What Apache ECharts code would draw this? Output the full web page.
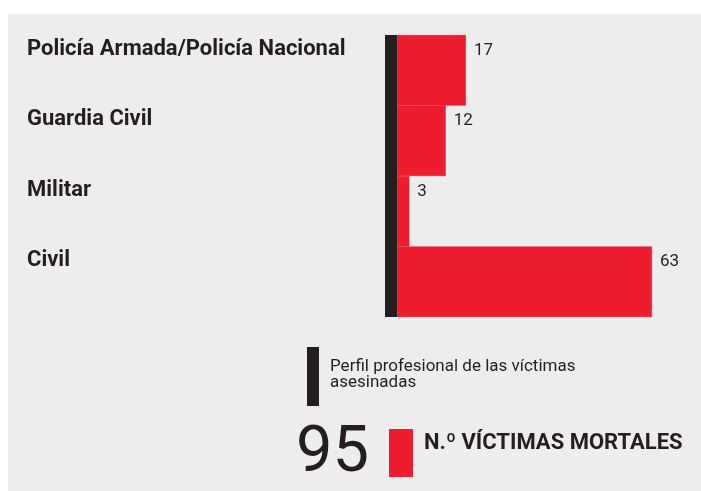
<!DOCTYPE html>
<html><head><meta charset="utf-8">
<script src="https://cdn.jsdelivr.net/npm/echarts@6/dist/echarts.min.js"></script>
<style>html,body{margin:0;padding:0;background:#fff;}#c{width:701px;height:491px;}</style>
</head><body><div id="c"></div>
<script>
const categories = ['Policía Armada/Policía Nacional', 'Guardia Civil', 'Militar', 'Civil'];
const victims = [17, 12, 3, 63];
const seriesName = 'N.º VÍCTIMAS MORTALES';
const profileLabel = 'Perfil profesional de las víctimas\nasesinadas';

const RED = '#ed1c2e', BLACK = '#231f20', BG = '#ededed';
const total = victims.reduce((a, b) => a + b, 0);
const FONT = 'Roboto';

const chart = echarts.init(document.getElementById('c'));
chart.setOption({
  animation: false,
  textStyle: { fontFamily: FONT },
  graphic: [
    { type: 'rect', z: -10, shape: { x: 8, y: 14, width: 693, height: 477 }, style: { fill: BG } },
    { type: 'rect', shape: { x: 307, y: 347, width: 12, height: 59 }, style: { fill: BLACK } },
    { type: 'text', x: 330, y: 359, style: { text: profileLabel, font: '17px ' + FONT, fill: BLACK, lineHeight: 16, textVerticalAlign: 'top' } },
    { type: 'text', x: 296, y: 455, style: { text: String(total), font: '65px ' + FONT, fill: BLACK, textVerticalAlign: 'middle' } },
    { type: 'rect', shape: { x: 389, y: 429, width: 24, height: 48 }, style: { fill: RED } },
    { type: 'text', x: 424, y: 443, style: { text: seriesName, font: 'bold 22px ' + FONT, fill: BLACK, textVerticalAlign: 'middle' } }
  ],
  grid: { left: 385, top: 35, width: 267, height: 282, containLabel: false },
  xAxis: { type: 'value', min: -3, max: 63, show: false },
  yAxis: {
    type: 'category', data: categories, inverse: true,
    axisLine: { show: false },
    axisTick: { show: false },
    axisLabel: { align: 'left', verticalAlign: 'bottom', lineHeight: 42, margin: 358, color: BLACK, fontSize: 22, fontWeight: 'bold', fontFamily: FONT }
  },
  series: [{
    name: seriesName, type: 'bar', data: victims, barCategoryGap: 0,
    itemStyle: { color: RED, borderColor: RED, borderWidth: 0.6 },
    label: { show: true, position: ['100%', 0], offset: [8, 7], color: BLACK, fontSize: 17, fontFamily: FONT },
    markArea: {
      silent: true, z: 3,
      itemStyle: { color: BLACK, opacity: 1 },
      data: [[{ xAxis: -3 }, { xAxis: 0 }]]
    }
  }]
});
</script></body></html>
